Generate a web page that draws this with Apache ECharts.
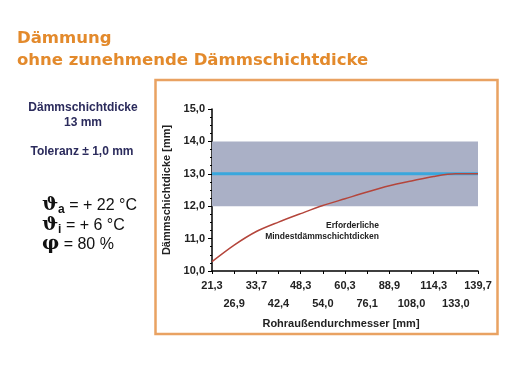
<!DOCTYPE html>
<html><head><meta charset="utf-8">
<script src="https://cdn.jsdelivr.net/npm/echarts@6/dist/echarts.min.js"></script>
<style>html,body{margin:0;padding:0;background:#fff}#c{width:506px;height:380px}</style>
</head><body><div id="c"></div>
<script>
const categories = ['21,3','26,9','33,7','42,4','48,3','54,0','60,3','76,1','88,9','108,0','114,3','133,0','139,7'];
const requiredThickness = [10.29,10.8,11.22,11.51,11.77,12.02,12.23,12.44,12.63,12.78,12.92,13.0,13.0];
const nominalThickness = [13,13,13,13,13,13,13,13,13,13,13,13,13];
const toleranceBand = [12,14];
const yTicks = {min:10,max:15,interval:1};

const chart = echarts.init(document.getElementById('c'));
const axisFont = {fontFamily:'Liberation Sans, Arial, sans-serif',fontWeight:'bold',fontSize:11,color:'#222'};
const symRich = {
  b:{font:'bold 19px DejaVu Serif, serif',fill:'#111'},
  s:{font:'bold 12px Liberation Sans, Arial, sans-serif',fill:'#111',padding:[9,0,0,0]},
  n:{font:'16px Liberation Sans, Arial, sans-serif',fill:'#111'}
};
chart.setOption({
  animation:false,
  grid:{left:212,right:28,top:109,bottom:109},
  graphic:[
    {type:'rect',shape:{x:155.5,y:80,width:342,height:254},style:{fill:'none',stroke:'#e9a262',lineWidth:2.5}},
    {type:'text',left:17,top:30,style:{text:'Dämmung',fill:'#e38a2c',font:'bold 16.5px DejaVu Sans, sans-serif'}},
    {type:'text',left:17,top:52,style:{text:'ohne zunehmende Dämmschichtdicke',fill:'#e38a2c',font:'bold 16.5px DejaVu Sans, sans-serif'}},
    {type:'text',x:83,y:100,style:{text:'Dämmschichtdicke\n13 mm',align:'center',lineHeight:15,fill:'#2b2b5c',font:'bold 12px Liberation Sans, Arial, sans-serif'}},
    {type:'text',x:82,y:146,style:{text:'Toleranz ± 1,0 mm',align:'center',fill:'#2b2b5c',font:'bold 12px Liberation Sans, Arial, sans-serif'}},
    {type:'text',x:42,y:195,style:{rich:symRich,text:'{b|ϑ}{s|a}{n| = + 22 °C}'}},
    {type:'text',x:42,y:215,style:{rich:symRich,text:'{b|ϑ}{s|i}{n| = + 6 °C}'}},
    {type:'text',x:42,y:235,style:{rich:symRich,text:'{b|φ}{n| = 80 %}'}},
    {type:'text',x:379,y:220,style:{text:'Erforderliche\nMindestdämmschichtdicken',align:'right',lineHeight:11,fill:'#222',font:'bold 8.5px Liberation Sans, Arial, sans-serif'}},
    {type:'text',x:341,y:318,style:{text:'Rohraußendurchmesser [mm]',align:'center',fill:'#222',font:'bold 11px Liberation Sans, Arial, sans-serif'}}
  ],
  xAxis:{type:'category',data:categories,boundaryGap:false,
    axisLine:{lineStyle:{color:'#000',width:1.5}},
    axisTick:{show:true,length:3,lineStyle:{color:'#000'},interval:0},
    axisLabel:Object.assign({interval:0,margin:6,lineHeight:18,
      formatter:(v,i)=> i%2===0 ? v : '\n'+v},axisFont),
    splitLine:{show:false}},
  yAxis:{type:'value',min:yTicks.min,max:yTicks.max,interval:yTicks.interval,
    name:'Dämmschichtdicke [mm]',nameLocation:'middle',nameGap:38,nameRotate:90,
    nameTextStyle:axisFont,
    axisLine:{show:true,lineStyle:{color:'#000',width:1.5}},
    axisTick:{show:true,length:4,lineStyle:{color:'#000'}},
    minorTick:{show:true,splitNumber:4,length:2,lineStyle:{color:'#000'}},
    axisLabel:Object.assign({formatter:v=>v.toFixed(1).replace('.',','),margin:7},axisFont),
    splitLine:{show:false}},
  series:[
    {type:'line',data:nominalThickness,symbol:'none',z:2,
      lineStyle:{color:'#39a7dd',width:3},
      markArea:{silent:true,itemStyle:{color:'#aab0c6'},data:[[{yAxis:toleranceBand[0]},{yAxis:toleranceBand[1]}]]}},
    {type:'line',data:requiredThickness,symbol:'none',smooth:0.3,z:3,
      lineStyle:{color:'#b4453b',width:1.5}}
  ]
});
</script></body></html>
